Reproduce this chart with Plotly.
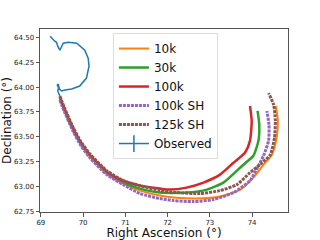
import plotly.graph_objects as go

# Model tracks (Right Ascension, Declination in degrees)
k10_ra = [69.45, 69.55, 69.77, 69.95, 70.16, 70.56, 70.95, 71.35, 71.82, 72.14, 72.69, 73.24, 73.72, 74.03, 74.27, 74.47, 74.58, 74.61, 74.56]
k10_dec = [63.88, 63.77, 63.56, 63.42, 63.30, 63.13, 63.03, 62.96, 62.91, 62.89, 62.88, 62.90, 62.97, 63.09, 63.22, 63.32, 63.49, 63.66, 63.81]

k30_ra = [69.45, 69.55, 69.77, 69.95, 70.16, 70.56, 70.95, 71.35, 71.82, 72.45, 72.93, 73.32, 73.64, 73.85, 74.03, 74.15, 74.17, 74.13]
k30_dec = [63.89, 63.78, 63.57, 63.43, 63.31, 63.14, 63.04, 62.98, 62.94, 62.94, 62.97, 63.04, 63.16, 63.24, 63.31, 63.46, 63.62, 63.76]

k100_ra = [69.45, 69.55, 69.77, 69.95, 70.16, 70.56, 70.95, 71.35, 71.82, 72.06, 72.45, 72.85, 73.24, 73.56, 73.83, 73.95, 73.99, 73.95]
k100_dec = [63.90, 63.79, 63.58, 63.44, 63.32, 63.15, 63.06, 63.01, 62.98, 62.97, 62.99, 63.04, 63.12, 63.24, 63.34, 63.46, 63.66, 63.81]

k100sh_ra = [69.45, 69.55, 69.77, 69.95, 70.16, 70.56, 70.95, 71.35, 71.82, 72.14, 72.61, 73.08, 73.56, 73.95, 74.15, 74.27, 74.39, 74.40, 74.35]
k100sh_dec = [63.87, 63.76, 63.55, 63.41, 63.29, 63.12, 63.02, 62.93, 62.88, 62.86, 62.85, 62.87, 62.94, 63.06, 63.21, 63.31, 63.46, 63.62, 63.76]

k125sh_ra = [69.45, 69.55, 69.77, 69.95, 70.16, 70.56, 70.95, 71.35, 71.82, 72.22, 72.77, 73.24, 73.64, 73.95, 74.21, 74.43, 74.53, 74.55, 74.51, 74.39]
k125sh_dec = [63.91, 63.80, 63.59, 63.45, 63.33, 63.16, 63.06, 63.01, 62.96, 62.94, 62.93, 62.96, 63.02, 63.14, 63.23, 63.32, 63.49, 63.66, 63.82, 63.94]

obs_ra = [69.22, 69.28, 69.33, 69.37, 69.40, 69.45, 69.49, 69.53, 69.65, 69.85, 70.04, 70.12, 70.14, 70.08, 69.92, 69.73, 69.57, 69.49, 69.44, 69.41, 69.39, 69.42, 69.40, 69.43, 69.45]
obs_dec = [64.51, 64.48, 64.46, 64.45, 64.41, 64.37, 64.41, 64.44, 64.45, 64.44, 64.37, 64.29, 64.21, 64.09, 64.01, 63.98, 63.97, 63.96, 63.98, 64.03, 64.02, 63.99, 63.96, 63.93, 63.91]

x_ticks = [69, 70, 71, 72, 73, 74]
y_ticks = [62.75, 63.00, 63.25, 63.50, 63.75, 64.00, 64.25, 64.50]

fig = go.Figure()
fig.add_trace(go.Scatter(x=k10_ra, y=k10_dec, mode="lines", name="10k",
                         line=dict(color="#ff7f0e", width=2, shape="spline", smoothing=0.6)))
fig.add_trace(go.Scatter(x=k30_ra, y=k30_dec, mode="lines", name="30k",
                         line=dict(color="#2ca02c", width=2.5, shape="spline", smoothing=0.6)))
fig.add_trace(go.Scatter(x=k100_ra, y=k100_dec, mode="lines", name="100k",
                         line=dict(color="#d62728", width=2.5, shape="spline", smoothing=0.6)))
fig.add_trace(go.Scatter(x=k100sh_ra, y=k100sh_dec, mode="lines", name="100k SH",
                         line=dict(color="#9467bd", width=3, dash="3px,1px", shape="spline", smoothing=0.6)))
fig.add_trace(go.Scatter(x=k125sh_ra, y=k125sh_dec, mode="lines", name="125k SH",
                         line=dict(color="#8c564b", width=3, dash="3px,1px", shape="spline", smoothing=0.6)))
fig.add_trace(go.Scatter(x=obs_ra, y=obs_dec, mode="lines", name="Observed",
                         showlegend=False, line=dict(color="#1f77b4", width=1.5)))
fig.add_trace(go.Scatter(x=[None], y=[None], mode="lines+markers", name="Observed",
                         line=dict(color="#1f77b4", width=1.5),
                         marker=dict(symbol="line-ns-open", size=12,
                                     line=dict(color="#1f77b4", width=1.5))))

axis_common = dict(showgrid=False, zeroline=False, showline=True, mirror=True,
                   linecolor="#555", linewidth=1, ticks="outside", ticklen=3.5,
                   tickcolor="#555", tickfont=dict(size=7, color="#222"),
                   automargin=False)

fig.update_layout(
    width=320, height=240,
    margin=dict(l=40, r=32, t=29, b=28),
    paper_bgcolor="white", plot_bgcolor="white",
    font=dict(family="DejaVu Sans", color="#111"),
    xaxis=dict(range=[68.98, 74.85], tickvals=x_ticks,
               title=dict(text="Right Ascension (°)", font=dict(size=12), standoff=3),
               **axis_common),
    yaxis=dict(range=[62.745, 64.583], tickvals=y_ticks, tickformat=".2f",
               title=dict(text="Declination (°)", font=dict(size=12), standoff=3),
               **axis_common),
    legend=dict(x=0.294, y=0.978, xanchor="left", yanchor="top",
                bgcolor="rgba(255,255,255,0.85)", bordercolor="#ddd", borderwidth=1,
                font=dict(size=12), tracegroupgap=0),
)

fig.write_html("out.html", config={"displayModeBar": False},
               post_script="document.body.style.margin='0';document.body.style.overflow='hidden';")
